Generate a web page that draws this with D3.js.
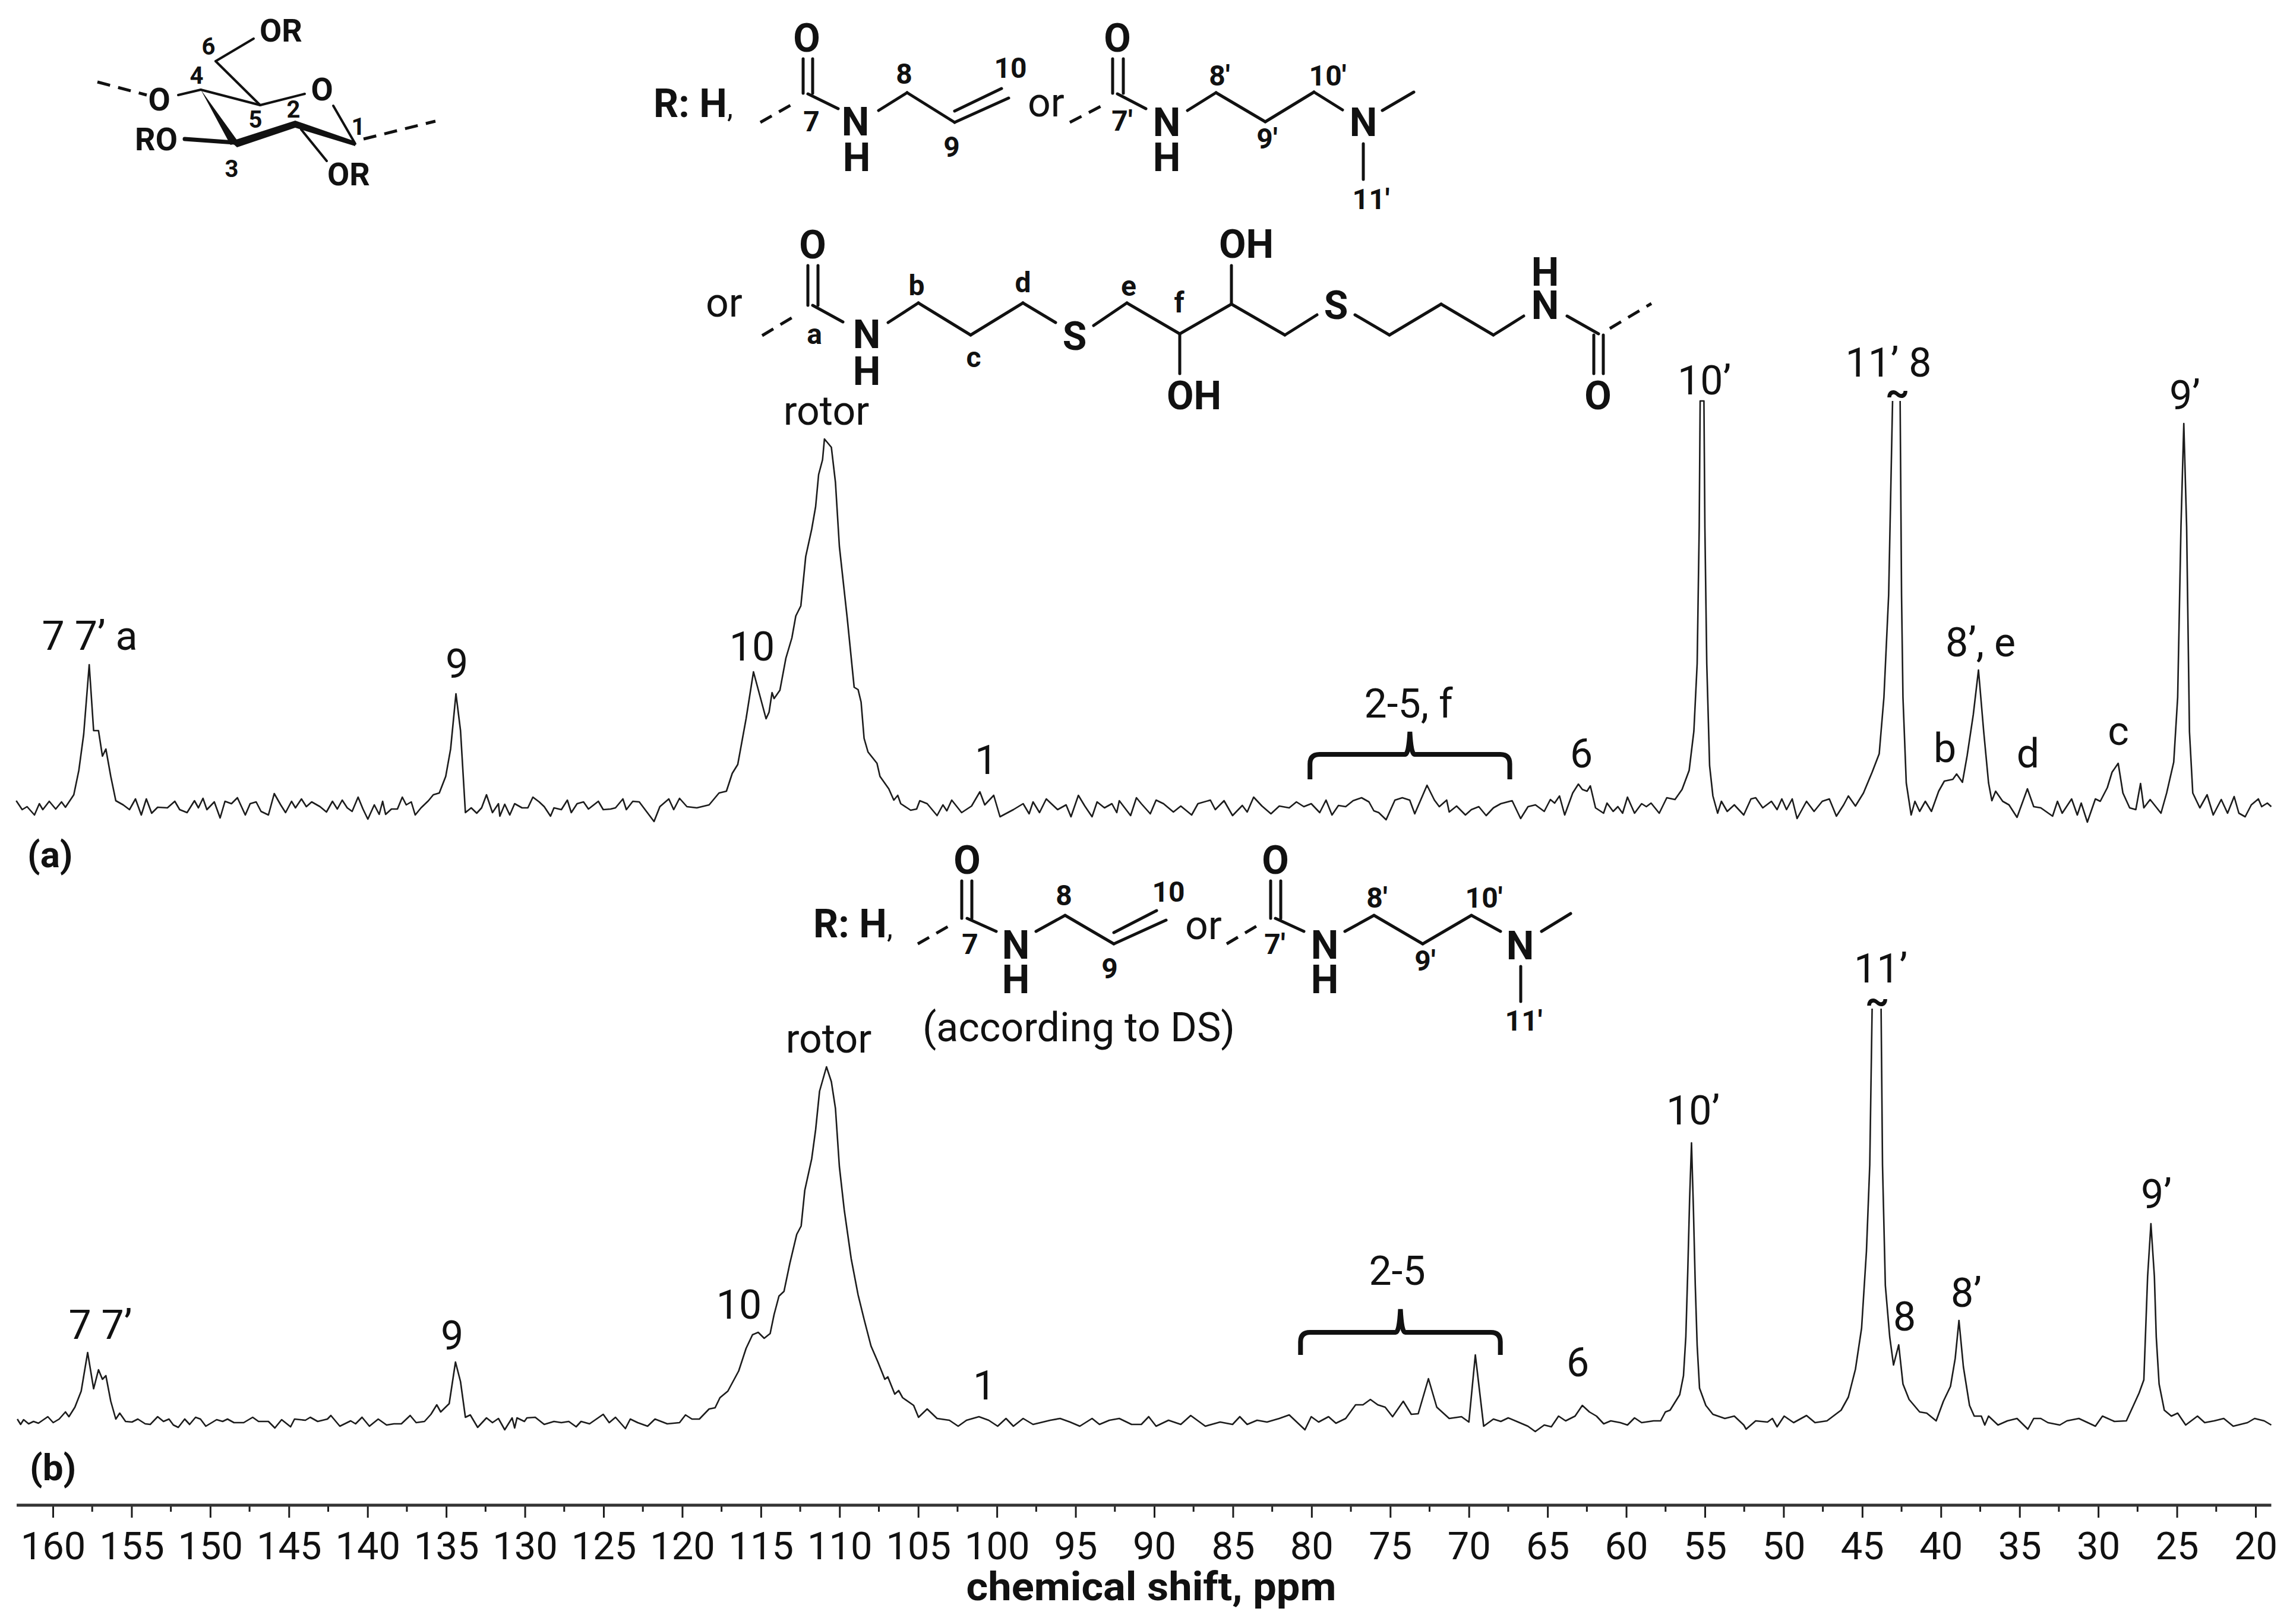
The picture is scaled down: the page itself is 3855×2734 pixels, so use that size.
<!DOCTYPE html>
<html><head><meta charset="utf-8">
<script src="https://cdnjs.cloudflare.com/ajax/libs/d3/7.8.5/d3.min.js"></script>
<style>html,body{margin:0;padding:0;background:#fff}svg{display:block}text{font-family:Roboto,"Liberation Sans",Arial,sans-serif;fill:#111}</style>
</head><body><svg id="c" width="3855" height="2734"></svg>
<script>
// [chemical shift in ppm, intensity above baseline]; null marks the broken off top of a truncated peak
const spectrumA=[[162.33,12],[161.95,-3],[161.64,2],[161.17,-12],[160.86,7],[160.64,-3],[160.23,11],[159.82,-2],[159.45,10],[159.2,1],[158.67,22],[158.35,63],[158.04,124],[157.69,241],[157.41,130],[157.1,130],[156.85,87],[156.63,99],[156.32,53],[156,12],[155.53,5],[155.13,-3],[154.75,15],[154.38,-12],[154.06,15],[153.72,-9],[153.34,1],[152.72,0],[152.25,11],[151.94,-3],[151.47,-8],[151,12],[150.75,0],[150.46,16],[150.21,-3],[149.74,10],[149.37,-17],[149.06,11],[148.65,7],[148.27,17],[147.77,-12],[147.46,7],[147.08,10],[146.77,-6],[146.3,-12],[145.93,24],[145.52,5],[145.21,-8],[144.83,11],[144.58,0],[144.2,15],[143.89,2],[143.55,10],[143.02,2],[142.61,-7],[142.23,11],[141.92,-2],[141.61,13],[141.29,0],[140.98,-6],[140.6,18],[140.29,-2],[139.98,-19],[139.57,5],[139.26,-11],[139.04,11],[138.85,-11],[138.48,-2],[138.1,-2],[137.79,18],[137.54,5],[137.22,10],[136.97,-12],[136.6,0],[136.13,12],[135.82,22],[135.44,25],[135.03,53],[134.72,99],[134.38,192],[134.09,130],[133.78,-8],[133.41,0],[133.06,-9],[132.75,0],[132.44,22],[132.06,-8],[131.68,7],[131.59,-14],[131.28,6],[130.96,-12],[130.65,7],[130.18,0],[129.81,0],[129.49,18],[129.09,10],[128.77,2],[128.37,-14],[128.15,0],[127.68,-3],[127.3,13],[127.05,-8],[126.68,7],[126.27,10],[125.96,-2],[125.33,11],[125.02,-3],[124.55,-2],[124.24,0],[123.77,15],[123.55,-3],[123.14,11],[122.73,10],[122.36,-3],[121.79,-23],[121.42,2],[120.85,15],[120.54,-3],[120.17,16],[119.7,2],[119.07,0],[118.29,5],[117.66,25],[117.19,28],[116.82,58],[116.47,73],[115.94,150],[115.47,229],[114.67,150],[114.48,161],[114.29,194],[114.16,184],[113.79,198],[113.41,252],[113.03,286],[112.78,323],[112.46,340],[112.15,423],[111.77,469],[111.52,507],[111.33,561],[111.08,586],[110.96,621],[110.52,607],[110.26,548],[110.01,440],[109.51,319],[109.07,203],[108.82,199],[108.63,178],[108.44,117],[108.19,94],[107.62,75],[107.43,53],[106.87,32],[106.55,13],[106.3,21],[106.11,7],[105.48,-4],[105.1,-2],[104.9,12],[104.43,7],[103.8,-13],[103.43,5],[103.18,-5],[102.87,13],[102.24,-8],[101.61,3],[101.08,27],[100.77,5],[100.2,21],[99.8,-15],[98.95,-3],[98.33,7],[97.95,-10],[97.7,10],[97.29,-8],[96.86,15],[96.14,-3],[95.6,5],[95.29,-15],[94.82,21],[94.41,3],[93.95,-15],[93.63,10],[93.16,0],[92.69,7],[92.38,-8],[92.22,12],[91.5,-13],[91.13,17],[90.82,7],[90.25,-10],[89.88,13],[89.41,7],[88.78,-7],[88.31,3],[87.62,-12],[87.22,7],[86.43,13],[86.12,-3],[85.56,12],[85.02,-13],[84.4,4],[84.09,-7],[83.68,18],[83.15,3],[82.58,-10],[82.05,3],[81.42,0],[80.96,10],[80.49,2],[80.02,7],[79.48,-8],[79.08,13],[78.7,-12],[78.29,4],[77.83,2],[77.36,12],[76.82,17],[76.35,10],[76.04,-5],[75.73,-8],[75.26,-20],[74.7,13],[74.23,17],[73.76,13],[73.44,-10],[72.66,38],[72.19,13],[71.88,2],[71.41,13],[71.25,-7],[70.78,3],[70.22,-12],[69.84,-3],[69.37,2],[68.9,-13],[68.44,0],[67.97,7],[67.25,12],[66.71,-18],[66.24,2],[65.77,5],[65.21,-6],[64.82,14],[64.55,8],[64.24,20],[63.91,-12],[63.4,25],[63.04,40],[62.79,31],[62.49,28],[62.28,37],[61.95,0],[61.44,-9],[61.22,8],[60.83,-6],[60.53,2],[60.23,-9],[59.92,18],[59.47,-9],[59.02,7],[58.72,2],[58.42,8],[57.9,-9],[57.42,17],[56.9,14],[56.45,31],[56,63],[55.7,129],[55.49,243],[55.36,473],[55.3,685],[55.06,685],[55,473],[54.88,243],[54.7,71],[54.49,20],[54.19,-9],[53.95,11],[53.58,-6],[53.13,5],[52.53,-12],[52.07,15],[51.77,17],[51.32,0],[50.77,11],[50.41,-3],[50.11,15],[49.81,-3],[49.45,15],[49.14,-18],[48.54,11],[48.06,-6],[47.54,11],[47.09,15],[46.64,-14],[46.18,5],[45.88,20],[45.43,3],[44.92,25],[44.37,60],[43.92,91],[43.62,186],[43.32,358],[43.07,685],null,[42.59,685],[42.5,358],[42.41,186],[42.2,42],[41.89,-12],[41.65,11],[41.35,-6],[40.99,11],[40.6,-6],[40.14,28],[39.78,45],[39.24,48],[39,57],[38.63,43],[38.33,88],[37.94,157],[37.61,232],[37.28,129],[36.97,42],[36.76,12],[36.52,28],[36.07,11],[35.67,5],[35.16,-16],[34.5,32],[34.1,2],[33.65,0],[32.9,-14],[32.59,11],[32.29,-9],[31.69,15],[31.33,-12],[31.08,8],[30.69,-24],[30.18,15],[29.87,11],[29.42,34],[29.12,60],[28.73,75],[28.43,25],[28,0],[27.61,-3],[27.31,41],[27.1,0],[26.7,14],[26.01,-9],[25.65,25],[25.2,77],[24.95,186],[24.74,473],[24.56,647],[24.38,473],[24.2,128],[23.99,25],[23.54,0],[23.08,22],[22.69,-12],[22.18,14],[21.78,-9],[21.36,19],[21.06,-9],[20.66,-15],[20.27,5],[19.82,15],[19.61,2],[19.25,8],[19,2]];
const spectrumB=[[162.26,6],[162.05,-3],[161.86,5],[161.54,-2],[161.23,2],[160.92,-1],[160.32,10],[159.98,0],[159.6,6],[159.2,18],[158.98,10],[158.6,26],[158.2,53],[157.79,118],[157.41,57],[157.1,89],[156.85,73],[156.63,79],[156.32,36],[156,6],[155.75,16],[155.38,2],[154.97,1],[154.6,6],[154.13,-2],[153.81,-3],[153.34,10],[152.97,2],[152.62,6],[152.34,-4],[152.03,-8],[151.62,6],[151.31,-3],[150.93,9],[150.62,6],[150.28,-6],[149.9,0],[149.59,5],[149.21,2],[148.9,6],[148.49,0],[147.87,0],[147.3,9],[146.93,2],[146.3,2],[145.89,-9],[145.46,5],[144.89,-7],[144.64,6],[143.95,4],[143.64,9],[143.17,2],[142.55,6],[142.33,12],[141.76,-6],[141.07,3],[140.76,-2],[140.35,9],[139.88,-6],[139.32,6],[138.79,-4],[138.32,-2],[137.85,-2],[137.29,12],[136.91,0],[136.38,2],[135.97,14],[135.6,30],[135.35,18],[134.81,32],[134.41,102],[134.09,69],[133.78,9],[133.47,13],[133,-8],[132.44,8],[132.06,0],[131.68,7],[131.28,-12],[130.81,8],[130.65,-9],[130.5,8],[130.03,2],[129.87,8],[129.34,9],[128.77,-3],[128.15,2],[127.68,0],[127.21,2],[126.74,-7],[126.43,2],[125.89,-2],[125.02,14],[124.64,0],[124.24,9],[123.61,-10],[123.3,6],[122.83,0],[122.2,-6],[121.73,6],[120.95,-2],[120.17,0],[119.79,13],[119.38,6],[118.91,6],[118.29,23],[117.91,25],[117.6,42],[117.1,53],[116.41,87],[115.94,125],[115.53,148],[115.17,152],[114.79,142],[114.41,150],[114.16,182],[113.85,213],[113.53,221],[113.16,268],[112.72,317],[112.44,331],[112.21,391],[111.77,444],[111.52,493],[111.27,558],[110.83,599],[110.52,574],[110.26,529],[110.01,431],[109.7,358],[109.26,276],[108.82,215],[108.44,174],[108,129],[107.56,102],[107.12,73],[106.93,77],[106.49,48],[106.24,54],[105.99,42],[105.29,29],[104.98,9],[104.43,23],[103.8,7],[103.02,4],[102.46,-6],[101.93,4],[101.14,10],[100.52,4],[99.95,-6],[99.42,7],[98.95,-6],[98.33,7],[97.7,-3],[97.23,0],[96.61,4],[95.98,7],[95.35,1],[94.73,-6],[93.95,7],[93.48,-3],[92.85,4],[92.22,7],[91.44,-3],[90.82,-3],[90.35,10],[89.88,-6],[89.09,4],[88.31,-3],[87.68,12],[86.75,-6],[85.81,1],[85.02,-3],[84.56,10],[84.09,-3],[83.46,4],[82.83,1],[82.05,7],[81.42,13],[80.42,-12],[80.02,10],[79.55,1],[78.92,10],[78.45,-1],[77.83,7],[77.2,30],[76.73,30],[76.26,39],[75.79,30],[75.32,26],[74.85,10],[74.17,36],[73.66,14],[73.22,15],[72.57,74],[72.04,26],[71.25,7],[70.47,10],[70,1],[69.59,114],[69.06,-6],[68.44,6],[67.97,2],[67.5,8],[66.87,1],[66.25,-6],[65.78,-15],[65.21,-4],[64.76,-7],[64.3,11],[63.85,3],[63.25,11],[62.79,29],[62.34,18],[61.89,11],[61.43,-2],[60.98,3],[60.38,0],[59.92,-4],[59.47,8],[59.02,0],[58.26,3],[57.81,3],[57.51,18],[57.21,21],[56.6,47],[56.36,79],[56.21,145],[56.09,253],[55.97,376],[55.85,471],[55.73,361],[55.61,231],[55.49,130],[55.34,58],[54.94,29],[54.49,14],[53.73,7],[53.13,11],[52.53,-4],[52.38,-11],[51.77,3],[51.02,1],[50.71,7],[50.41,-7],[49.96,11],[49.36,0],[48.54,12],[48,0],[47.24,3],[46.34,21],[45.88,43],[45.43,90],[45.04,159],[44.73,289],[44.52,434],[44.37,697],null,[43.8,697],[43.71,434],[43.53,231],[43.25,144],[43.01,97],[42.68,131],[42.41,65],[42.02,39],[41.35,18],[40.9,16],[40.3,3],[39.84,36],[39.39,61],[39.09,108],[38.85,172],[38.57,94],[38.18,29],[37.88,11],[37.43,11],[37.21,-4],[36.97,11],[36.37,-4],[35.77,3],[35.16,7],[34.47,-11],[34.1,7],[33.65,7],[33.2,0],[32.44,-4],[31.99,3],[31.23,7],[30.18,-6],[29.73,11],[28.97,2],[28.21,3],[27.76,29],[27.4,50],[27.1,72],[26.98,159],[26.86,246],[26.65,335],[26.43,246],[26.31,144],[26.13,65],[25.8,21],[25.35,11],[24.95,16],[24.44,-4],[23.69,11],[23.23,0],[22.63,3],[22.02,7],[21.42,-6],[20.51,0],[20.06,7],[19.45,3],[19,-4]];
const majorTicks=[160,155,150,145,140,135,130,125,120,115,110,105,100,95,90,85,80,75,70,65,60,55,50,45,40,35,30,25,20];
const minorTicks=majorTicks.slice(0,-1).map(t=>t-2.5);
const sugarBracketA=[80.1,67.4], sugarBracketB=[80.7,68.0];

const svg=d3.select("#c");
const x=d3.scaleLinear().domain([160,20]).range([89,3797]);
const yA=d3.scaleLinear().domain([0,700]).range([1360,660]);
const yB=d3.scaleLinear().domain([0,700]).range([2395,1695]);
const col="#1c1c1c";

function spectrum(data,y){
  svg.append("path").attr("d",d3.line().defined(d=>d).x(d=>x(d[0])).y(d=>y(d[1]))(data))
     .attr("fill","none").attr("stroke",col).attr("stroke-width",2.6).attr("stroke-linejoin","round");
}
spectrum(spectrumA,yA); spectrum(spectrumB,yB);

// axis
const axY=2534;
const ax=svg.append("g").attr("transform",`translate(0,${axY})`);
ax.call(d3.axisBottom(x).tickValues(majorTicks).tickSize(21).tickPadding(26).tickFormat(d3.format("d")));
ax.select(".domain").remove();
ax.selectAll("line").attr("stroke",col).attr("stroke-width",3);
ax.selectAll("text").attr("font-size",65).attr("dy",null).attr("y",91).style("font-family","Roboto").attr("fill","#111");
ax.append("g").selectAll("line").data(minorTicks).join("line").attr("x1",d=>x(d)).attr("x2",d=>x(d)).attr("y1",0).attr("y2",11).attr("stroke",col).attr("stroke-width",3);
ax.append("line").attr("x1",x(162.3)).attr("x2",x(19)).attr("stroke","#333").attr("stroke-width",5);

function T(s,px,py,fs,bold,anchor){
  return svg.append("text").attr("x",px).attr("y",py).attr("font-size",fs).attr("font-weight",bold?700:400)
    .attr("text-anchor",anchor||"middle").text(s);
}
T("chemical shift, ppm",1938,2694,66,true).attr("textLength",623).attr("lengthAdjust","spacingAndGlyphs");

// peak labels: text, centre x, baseline y
const labels=[["7 7’ a",151,1094],["9",769,1141],["10",1266,1112],["rotor",1391,715],["1",1660,1303],["2-5, f",2371,1208],["6",2662,1292],["10’",2869,664],["11’ 8",3179,634],["8’, e",3334,1105],["b",3274,1283],["d",3414,1292],["c",3566,1254],["9’",3678,689],
["7 7’",169,2254],["9",761,2272],["10",1244,2220],["rotor",1395,1772],["1",1657,2356],["2-5",2352,2163],["6",2656,2317],["10’",2850,1893],["11’",3166,1654],["8",3206,2240],["8’",3310,2200],["9’",3630,2034],["(according to DS)",1816,1753]];
labels.forEach(l=>T(l[0],l[1],l[2],68,false));
T("~",3194,681,62,true); T("~",3160,1705,62,true);
T("(a)",46,1460,62,true,"start"); T("(b)",50,2492,62,true,"start");

// brackets
function bracket(r,top,bot,tip){
  const a=x(r[0]),b=x(r[1]),m=(a+b)/2;
  svg.append("path").attr("d",`M${a},${bot}V${top+16}Q${a},${top} ${a+16},${top}H${m-8}Q${m-2},${top} ${m},${tip}Q${m+2},${top} ${m+8},${top}H${b-16}Q${b},${top} ${b},${top+16}V${bot}`)
   .attr("fill","none").attr("stroke","#111").attr("stroke-width",8);
}
bracket(sugarBracketA,1270,1312,1232); bracket(sugarBracketB,2243,2281,2204);

// structural formulae
function bonds(list,w,dash){
  list.forEach(b=>{const l=svg.append("line").attr("x1",b[0]).attr("y1",b[1]).attr("x2",b[2]).attr("y2",b[3]).attr("stroke","#111").attr("stroke-width",w||5).attr("stroke-linecap","round");
   if(dash)l.attr("stroke-dasharray",dash).attr("stroke-linecap","butt");});
}
function atom(s,px,py,fs,bold){ T(s,px,py+fs*0.36,fs,bold); }
function rLabel(px,py){
  const t=T("R: H",px,py,66,true,"start");
  t.append("tspan").attr("font-weight",400).attr("font-size",50).text(",");
}
// glucose ring
bonds([[164,138,247,160],[1280,206,1331,177],[1801,206,1857,177],[1283,565,1336,533],[2710,553,2780,511],[1545,1589,1599,1558],[2065,1589,2117,1558],[612,234,733,204]],5,"22 14");
bonds([[300,160,338,151],[338,151,438,177],[438,177,513,158],[561,178,598,242],[438,177,363,103],[363,103,427,65],[507,218,550,271]],4);
bonds([[395,240,311,234]],7);
svg.append("path").attr("d","M338,151L388,244L402,240Z").attr("fill","#111");
svg.append("path").attr("d","M388,238L497,203L598,238L598,246L497,215L399,248Z").attr("fill","#111");
[["OR",473,51],["O",268,167],["O",542,150],["RO",263,234],["OR",587,293]].forEach(a=>atom(a[0],a[1],a[2],54,true));
[["6",351,78],["4",331,127],["5",430,201],["2",494,184],["1",603,213],["3",390,284]].forEach(a=>atom(a[0],a[1],a[2],40,true));
// upper R row
rLabel(1100,197);
bonds([[1352,99,1352,157],[1368,99,1368,157],[1360,158,1411,183],[1479,186,1527,156],[1527,156,1607,206],[1607,187,1686,149],[1607,206,1698,165],
 [1873,99,1873,157],[1891,99,1891,157],[1881,158,1929,183],[1999,186,2047,156],[2047,156,2130,205],[2130,205,2212,155],[2212,155,2260,185],[2327,186,2380,155],[2295,242,2295,302]]);
[["O",1358,63],["N",1440,204],["H",1442,264],["O",1881,63],["N",1964,205],["H",1964,264],["N",2295,205]].forEach(a=>atom(a[0],a[1],a[2],66,true));
T("or",1761,196,68,false);
[["7",1366,204],["8",1522,124],["10",1701,114],["9",1602,247],["7'",1889,203],["8'",2053,127],["10'",2235,127],["9'",2133,233],["11'",2308,335]].forEach(a=>atom(a[0],a[1],a[2],48,true));
// linker row
T("or",1219,533,68,false);
bonds([[1360,447,1360,514],[1377,447,1377,514],[1368,514,1419,542],[1495,543,1546,510],[1546,510,1634,564],[1634,564,1722,510],[1722,510,1777,543],[1841,548,1897,510],[1897,510,1986,562],[1986,562,1986,629],[1986,562,2073,512],[2073,512,2073,447],[2073,512,2163,564],[2163,564,2217,530],[2281,530,2339,564],[2339,564,2426,512],[2426,512,2514,564],[2514,564,2565,532],[2638,532,2691,562],[2683,564,2683,629],[2699,564,2699,629]]);
[["O",1368,411],["N",1459,562],["H",1459,624],["S",1809,565],["OH",2010,665],["OH",2098,410],["S",2249,513],["N",2601,513],["H",2601,457],["O",2690,665]].forEach(a=>atom(a[0],a[1],a[2],66,true));
[["a",1371,562],["b",1543,480],["c",1639,601],["d",1722,475],["e",1900,481],["f",1985,509]].forEach(a=>atom(a[0],a[1],a[2],48,true));
// lower R row
rLabel(1369,1578);
bonds([[1619,1483,1619,1546],[1636,1483,1636,1546],[1628,1546,1677,1568],[1744,1568,1793,1541],[1793,1541,1875,1589],[1875,1589,1963,1549],[1875,1570,1947,1533],
 [2139,1483,2139,1546],[2156,1483,2156,1546],[2147,1546,2195,1568],[2264,1568,2313,1541],[2313,1541,2395,1589],[2395,1589,2477,1541],[2477,1541,2526,1568],[2595,1568,2644,1538],[2560,1627,2560,1686]]);
[["O",1628,1447],["N",1710,1590],["H",1710,1648],["O",2147,1447],["N",2230,1590],["H",2230,1648],["N",2559,1591]].forEach(a=>atom(a[0],a[1],a[2],66,true));
T("or",2026,1581,68,false);
[["7",1633,1589],["8",1791,1507],["10",1967,1501],["9",1868,1630],["7'",2146,1589],["8'",2318,1511],["10'",2498,1511],["9'",2399,1617],["11'",2565,1718]].forEach(a=>atom(a[0],a[1],a[2],48,true));
</script></body></html>
